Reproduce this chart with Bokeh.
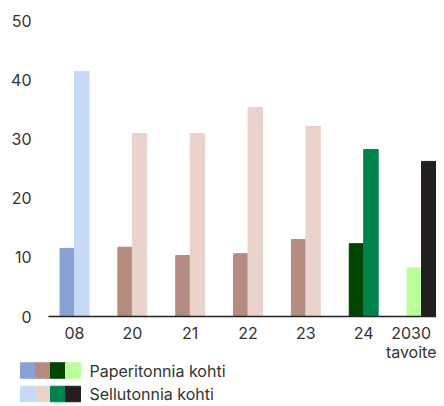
import numpy as np
from bokeh.plotting import figure
from bokeh.models import Range1d, FixedTicker, ColumnDataSource
from bokeh.core.properties import value
from bokeh.embed import file_html
from bokeh.resources import INLINE

categories = ["08", "20", "21", "22", "23", "24", "2030\ntavoite"]
paper = [11.5, 11.7, 10.3, 10.6, 13.0, 12.3, 8.2]
pulp = [41.4, 30.9, 30.9, 35.3, 32.1, 28.2, 26.2]
paper_colors = ["#88A2D3", "#B58C80", "#B58C80", "#B58C80", "#B58C80", "#004600", "#BCFF9C"]
pulp_colors = ["#C6D9F6", "#E9D3CC", "#E9D3CC", "#E9D3CC", "#E9D3CC", "#00834A", "#231F20"]
legend_labels = ["Paperitonnia kohti", "Sellutonnia kohti"]
legend_paper = ["#88A2D3", "#B58C80", "#004600", "#BCFF9C"]
legend_pulp = ["#C6D9F6", "#E9D3CC", "#00834A", "#231F20"]
y_ticks = [0, 10, 20, 30, 40, 50]

FONT = "Inter"
TXT = "#333333"
FS = "16px"

# layout (pixels)
W, H = 436, 406
AX_LEFT, AX_RIGHT = 48, 436     # where the value area starts / ends
Y_TOP, Y_ZERO = 20, 316         # pixel rows of 50 and 0
X_FIRST, X_STEP = 74, 57.84     # centre of first group and group spacing

pos = np.arange(len(categories))
bw = 0.25

# data ranges derived from the pixel layout
x_start = -(X_FIRST - 0) / X_STEP
x_end = x_start + W / X_STEP
y_scale = (Y_ZERO - Y_TOP) / 50.0
y_end = 50 + Y_TOP / y_scale
y_start = y_end - H / y_scale


def px_x(px):
    return x_start + px / X_STEP


def px_y(py):
    return y_end - py / y_scale


p = figure(frame_width=W, frame_height=H,
           x_range=Range1d(x_start, x_end), y_range=Range1d(y_start, y_end),
           output_backend="svg", toolbar_location=None,
           min_border=0, min_border_left=0, min_border_right=0,
           min_border_top=0, min_border_bottom=0)
p.outline_line_color = None
p.grid.visible = False

src_p = ColumnDataSource(dict(x=pos - bw / 2, top=paper, color=paper_colors))
src_s = ColumnDataSource(dict(x=pos + bw / 2, top=pulp, color=pulp_colors))
p.vbar(x="x", top="top", width=bw, color="color", source=src_p)
p.vbar(x="x", top="top", width=bw, color="color", source=src_s)

xa = p.xaxis[0]
xa.fixed_location = 0
xa.bounds = (px_x(AX_LEFT), px_x(AX_RIGHT))
xa.ticker = FixedTicker(ticks=list(pos))
xa.major_label_overrides = {int(i): c for i, c in zip(pos, categories)}
xa.axis_line_color = "#222222"
xa.axis_line_width = 1.5
xa.major_tick_line_color = None
xa.minor_tick_line_color = None
xa.major_label_standoff = 0
xa.major_label_text_font = FONT
xa.major_label_text_font_size = FS
xa.major_label_text_color = TXT
xa.major_label_text_line_height = 0.95

ya = p.yaxis[0]
ya.fixed_location = px_x(AX_LEFT)
ya.ticker = FixedTicker(ticks=y_ticks)
ya.axis_line_color = None
ya.major_tick_line_color = None
ya.minor_tick_line_color = None
ya.major_label_standoff = 11
ya.major_label_text_font = FONT
ya.major_label_text_font_size = FS
ya.major_label_text_color = TXT

# legend: two rows of colour swatches with labels
sw = 15
leg_left = 20
row_py = [370, 393.5]
for row, cols in enumerate([legend_paper, legend_pulp]):
    xs = [px_x(leg_left + sw / 2 + i * sw) for i in range(len(cols))]
    p.rect(x=xs, y=[px_y(row_py[row])] * len(cols), width=sw, height=15.5,
           width_units="screen", height_units="screen", color=cols)
p.text(x=[px_x(leg_left + 4 * sw + 9)] * 2, y=[px_y(v) for v in row_py],
       text=legend_labels, text_font=value(FONT), text_font_size=FS,
       text_color=TXT, text_baseline="middle", text_align="left")

open("out.html", "w").write(file_html(p, INLINE))
